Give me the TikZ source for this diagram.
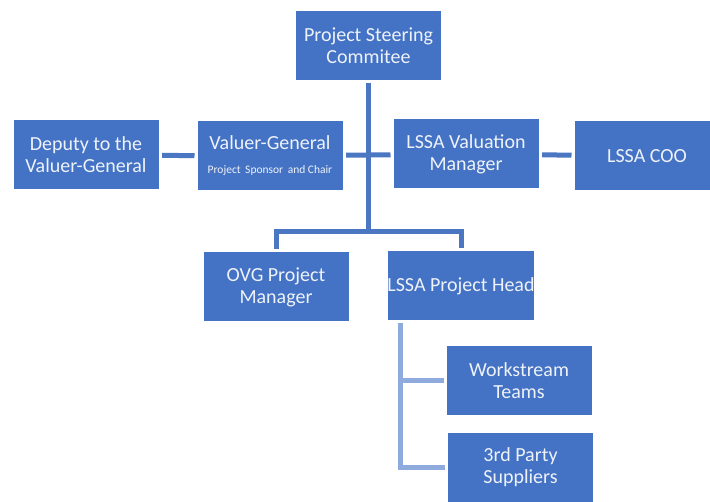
\documentclass[tikz,border=0pt]{standalone}
\usepackage{fontspec}
\setmainfont{Carlito}
\usetikzlibrary{backgrounds}
\definecolor{boxblue}{HTML}{4472C4}
\definecolor{lineblue}{HTML}{4A76C2}
\definecolor{paleblue}{HTML}{8FAADC}
\definecolor{boxtext}{HTML}{EEF2F9}
\tikzset{
  rolebox/.style={rectangle, fill=boxblue, draw=white, line width=3pt,
    minimum width=148pt, minimum height=72pt, inner sep=1pt, align=center,
    text=boxtext, font=\fontsize{20}{22}\selectfont},
  link/.style={lineblue, line width=5pt},
  sublink/.style={paleblue, line width=5pt}
}
\begin{document}
\begin{tikzpicture}[x=1pt, y=-1pt]
		\useasboundingbox (0,0) rectangle (710,502);
		% comitato
		\node[rolebox] (steer) at (368.5,46) {Project Steering\\Commitee};
		% seconda riga
		\node[rolebox] (deputy) at (86,155) {Deputy to the\\Valuer-General};
		\node[rolebox] (valuer) at (270,156) {Valuer-General\\[2pt]{\fontsize{11.5}{13}\selectfont Project\, Sponsor\, and Chair}};
		\node[rolebox] (valmgr) at (466,154) {LSSA Valuation\\Manager};
		\node[rolebox] (coo) at (647,156) {LSSA COO};
		% terza riga
		\node[rolebox] (ovg) at (276,287) {OVG Project\\Manager};
		\node[rolebox] (head) at (461,286) {LSSA Project Head};
		% sotto il capo progetto
		\node[rolebox] (work) at (519,381) {Workstream\\Teams};
		\node[rolebox] (third) at (520.5,467.5) {3rd Party\\Suppliers};
		% collegamenti
		\coordinate (bar) at (368.5,232);
		\coordinate (tap) at (400,322);
		\begin{pgfonlayer}{background}
			\draw[link] (steer) -- (bar);
			\draw[link] (ovg.north) |- (bar) -| (head.north);
			\draw[link] (deputy) -- (valuer);
			\draw[link] (valuer) -- (valmgr);
			\draw[link] (valmgr) -- (coo);
			\draw[sublink] (tap) |- (third.west);
			\draw[sublink] (tap |- work.west) -- (work.west);
		\end{pgfonlayer}
	\end{tikzpicture}
\end{document}
